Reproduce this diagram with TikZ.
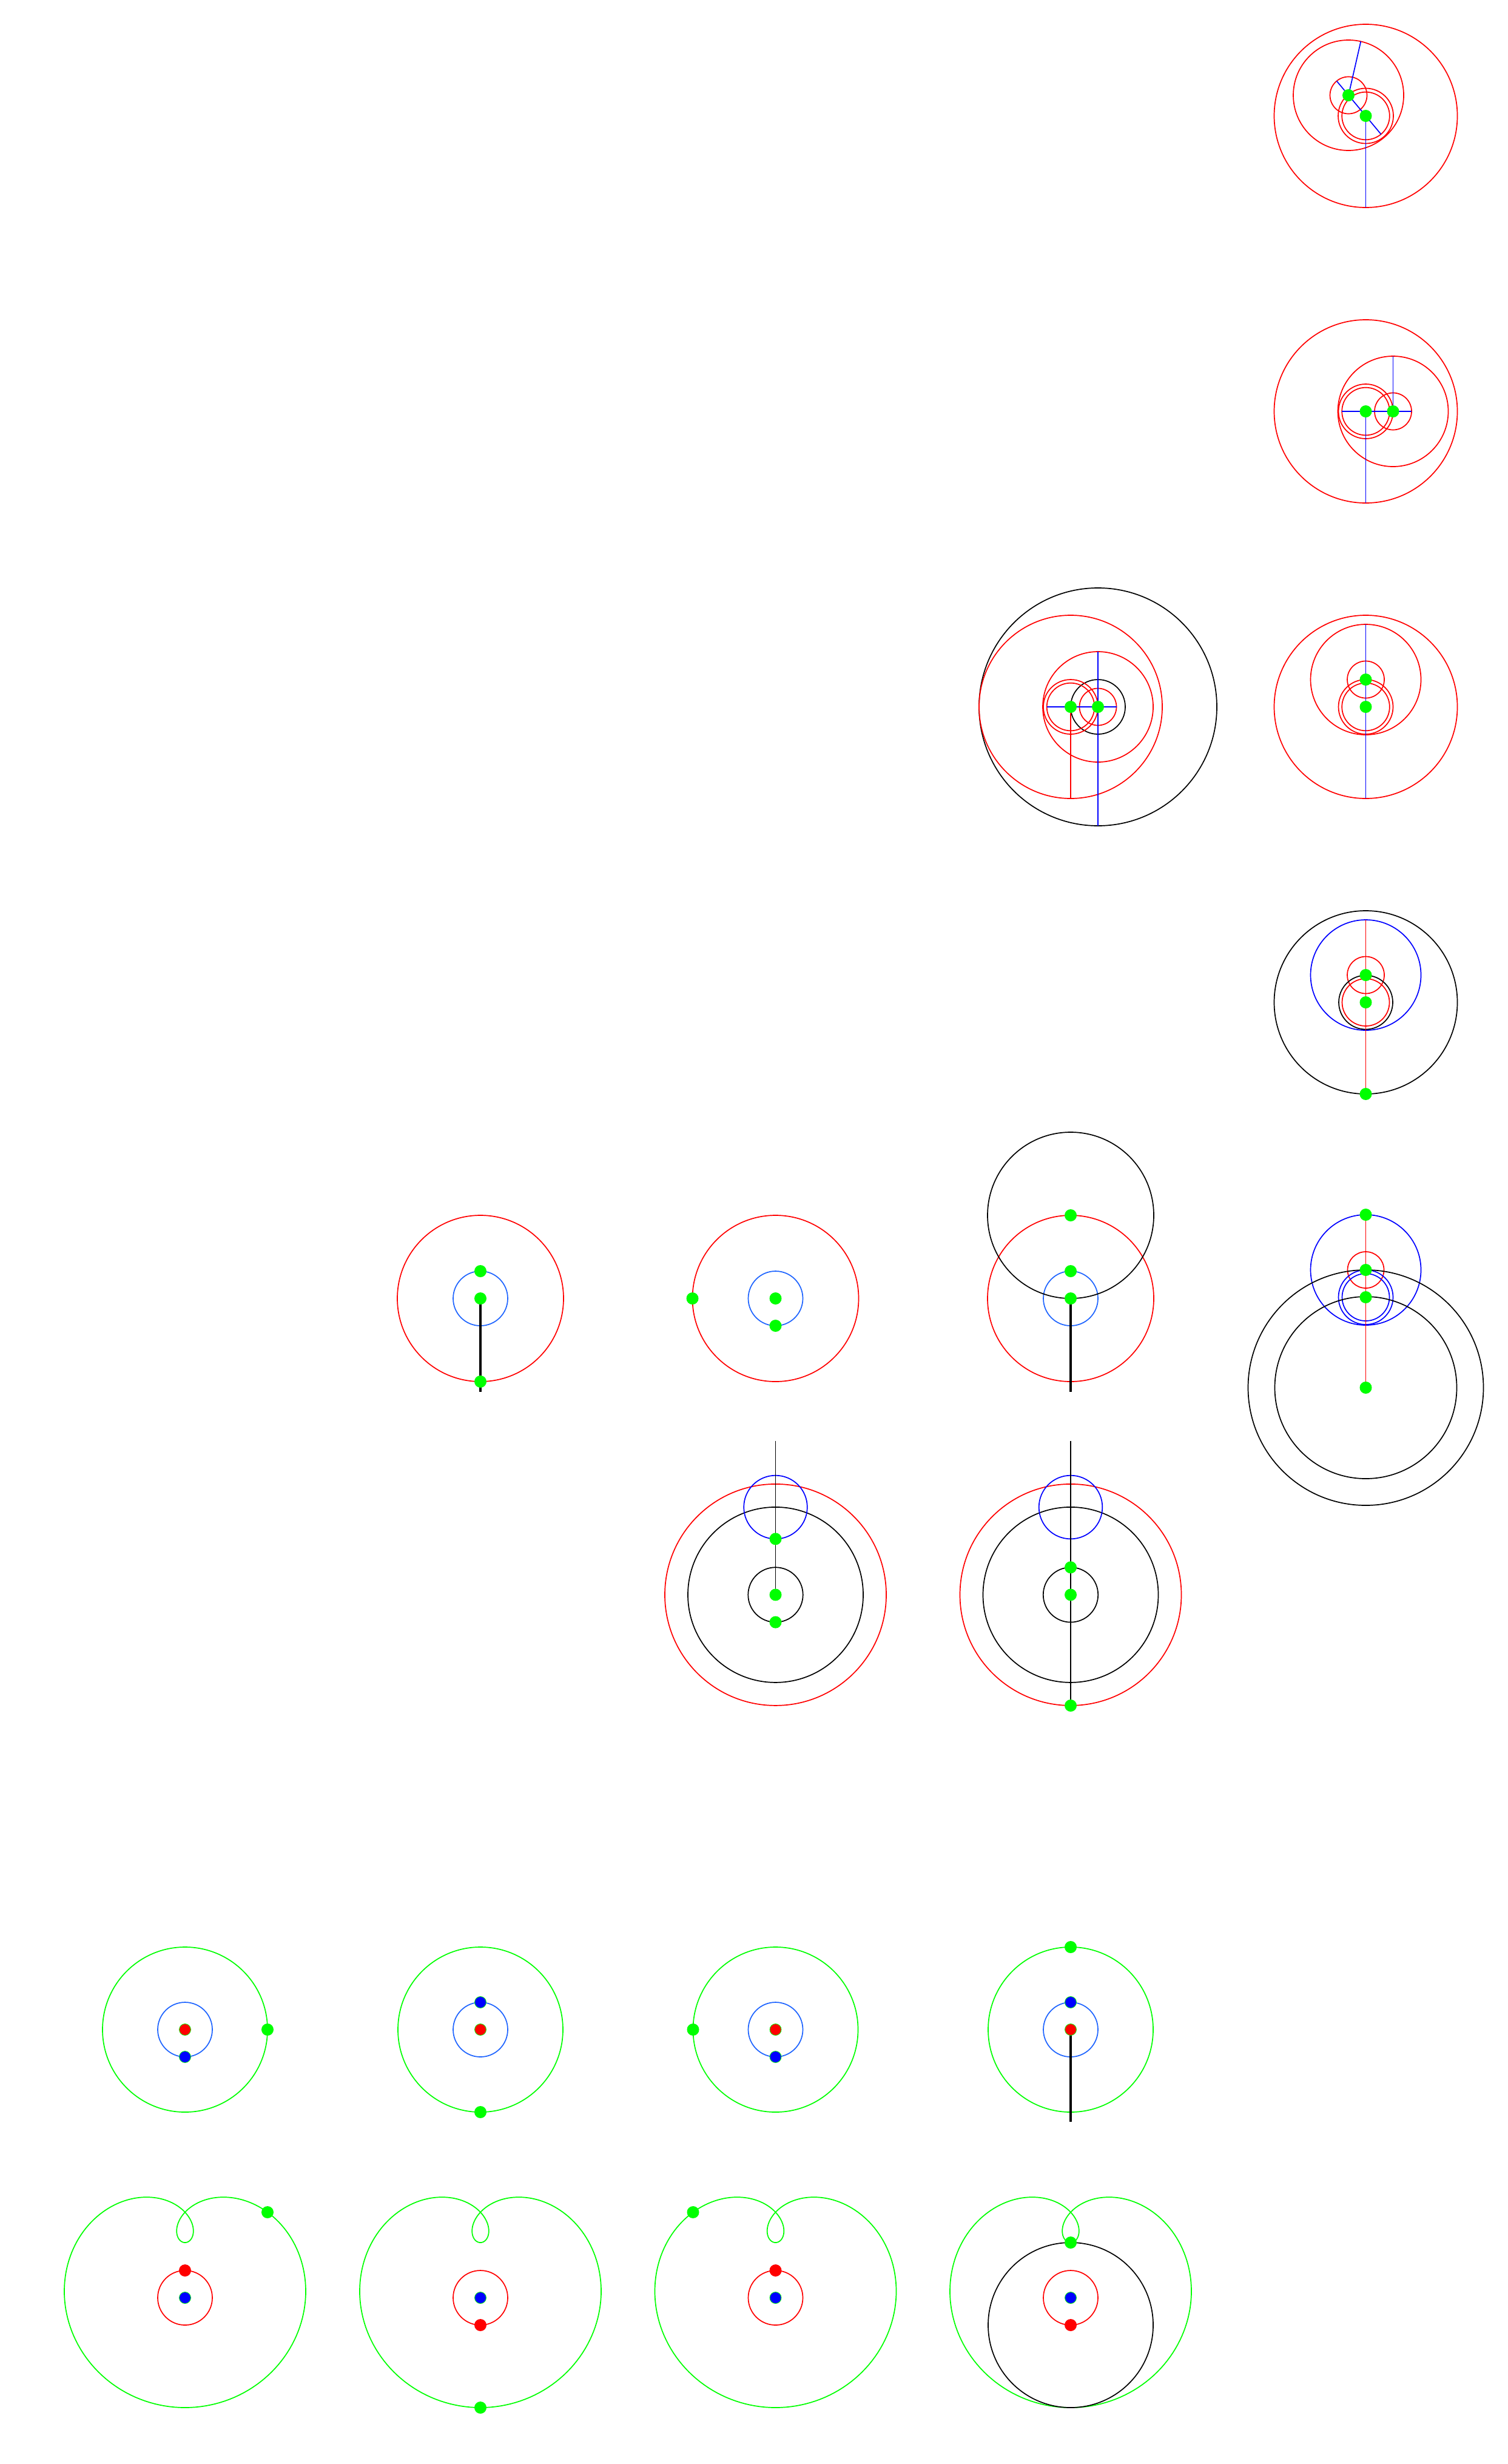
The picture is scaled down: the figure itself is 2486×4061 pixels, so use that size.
\documentclass[tikz,border=0pt]{standalone}
\definecolor{pg}{RGB}{0,255,0}
\definecolor{pr}{RGB}{255,0,0}
\definecolor{pb}{RGB}{0,0,255}
\definecolor{lb}{RGB}{30,100,255}
\begin{document}
\begin{tikzpicture}[x=1pt,y=-1pt,
  ln/.style={line width=1.7pt},
  rc/.style={ln,draw=pr}, bc/.style={ln,draw=pb}, kc/.style={ln,draw=black},
  gc/.style={ln,draw=pg}, lbc/.style={ln,draw=lb},
  tk/.style={line width=4.5pt,draw=black},
  dot/.style={circle,inner sep=0pt,minimum size=20pt},
  gdot/.style={dot,fill=pg},
  rdot/.style={dot,fill=pr},
  rdoto/.style={dot,fill=pr,draw=pg,line width=0.8pt,minimum size=19pt},
  bdoto/.style={dot,fill=pb,draw=pg,line width=0.8pt,minimum size=19pt}]
\path[fill=white] (0,0) rectangle (2486,4061);
% ---------- Panel A ----------
\coordinate (aO) at (2251.5,191);
\coordinate (aM) at (2223,157);
\coordinate (aB) at (2251.5,342);
\coordinate (aP) at (2203.5,133.5);
\coordinate (aQ) at (2276.7,221.3);
\coordinate (aT) at (2243.3,68.3);
\draw[rc] (aO) circle[radius=151pt];
\draw[rc] (aM) circle[radius=91pt];
\draw[rc] (aM) circle[radius=30.5pt];
\draw[rc] (aO) circle[radius=45.5pt];
\draw[rc] (aO) circle[radius=39.3pt];
\draw[bc] (aO) -- (aB);
\draw[bc] (aP) -- (aQ);
\draw[bc] (aM) -- (aT);
\node[gdot] (aMd) at (aM) {};
\node[gdot] (aOd) at (aO) {};
% ---------- Panel B ----------
\coordinate (bO) at (2251.5,678);
\coordinate (bM) at (2296.5,678);
\coordinate (bB) at (2251.5,829);
\coordinate (bP) at (2212.2,678);
\coordinate (bQ) at (2327,678);
\coordinate (bT) at (2296.5,587);
\draw[rc] (bO) circle[radius=151pt];
\draw[rc] (bM) circle[radius=91pt];
\draw[rc] (bM) circle[radius=30.5pt];
\draw[rc] (bO) circle[radius=45pt];
\draw[rc] (bO) circle[radius=39.3pt];
\draw[bc] (bO) -- (bB);
\draw[bc] (bP) -- (bQ);
\draw[bc] (bM) -- (bT);
\node[gdot] (bMd) at (bM) {};
\node[gdot] (bOd) at (bO) {};
% ---------- Panel C right ----------
\coordinate (cO) at (2251.5,1165);
\coordinate (cM) at (2251.5,1120);
\coordinate (cT) at (2251.5,1029);
\coordinate (cB) at (2251.5,1316);
\draw[rc] (cO) circle[radius=151pt];
\draw[rc] (cM) circle[radius=91pt];
\draw[rc] (cM) circle[radius=30.5pt];
\draw[rc] (cO) circle[radius=45pt];
\draw[rc] (cO) circle[radius=39.3pt];
\draw[bc] (cT) -- (cB);
\node[gdot] (cMd) at (cM) {};
\node[gdot] (cOd) at (cO) {};
% ---------- Panel C left ----------
\coordinate (dO) at (1765,1165);
\coordinate (dM) at (1810,1165);
\coordinate (dP) at (1725.7,1165);
\coordinate (dQ) at (1840.5,1165);
\coordinate (dT) at (1810,1074);
\coordinate (dB) at (1810,1361);
\coordinate (dR) at (1765,1316);
\draw[kc] (dM) circle[radius=196pt];
\draw[rc] (dO) circle[radius=151pt];
\draw[rc] (dM) circle[radius=91pt];
\draw[rc] (dM) circle[radius=30.5pt];
\draw[kc] (dM) circle[radius=45pt];
\draw[rc] (dO) circle[radius=45pt];
\draw[rc] (dO) circle[radius=39.3pt];
\draw[rc] (dO) -- (dR);
\draw[bc] (dT) -- (dB);
\draw[bc] (dP) -- (dQ);
\node[gdot] (dOd) at (dO) {};
\node[gdot] (dMd) at (dM) {};
% ---------- Panel D ----------
\coordinate (eO) at (2251.5,1652);
\coordinate (eM) at (2251.5,1607);
\coordinate (eT) at (2251.5,1516);
\coordinate (eB) at (2251.5,1803);
\draw[kc] (eO) circle[radius=151pt];
\draw[bc] (eM) circle[radius=91pt];
\draw[rc] (eM) circle[radius=30.5pt];
\draw[kc] (eO) circle[radius=44.5pt];
\draw[rc] (eO) circle[radius=39pt];
\draw[rc] (eT) -- (eB);
\node[gdot] (eMd) at (eM) {};
\node[gdot] (eOd) at (eO) {};
\node[gdot] (eBd) at (eB) {};
% ---------- Panel E ----------
\coordinate (fT) at (2251.5,2002);
\coordinate (fM) at (2251.5,2093);
\coordinate (fQ) at (2251.5,2138);
\coordinate (fS) at (2251.5,2287);
\draw[bc] (fM) circle[radius=91pt];
\draw[rc] (fM) circle[radius=30pt];
\draw[bc] (fQ) circle[radius=45pt];
\draw[bc] (fQ) circle[radius=39pt];
\draw[kc] (fS) circle[radius=194pt];
\draw[kc] (fS) circle[radius=150pt];
\draw[rc] (fT) -- (fS);
\node[gdot] (fTd) at (fT) {};
\node[gdot] (fMd) at (fM) {};
\node[gdot] (fQd) at (fQ) {};
\node[gdot] (fSd) at (fS) {};
% ---------- Row F ----------
\coordinate (g1O) at (792,2140);
\coordinate (g1B) at (792,2294);
\draw[rc] (g1O) circle[radius=137pt];
\draw[lbc] (g1O) circle[radius=45pt];
\draw[tk] (g1O) -- (g1B);
\node[gdot] (g1a) at (792,2095) {};
\node[gdot] (g1b) at (g1O) {};
\node[gdot] (g1c) at (792,2277) {};
\coordinate (g2O) at (1278.5,2140);
\draw[rc] (g2O) circle[radius=137pt];
\draw[lbc] (g2O) circle[radius=45pt];
\node[gdot] (g2a) at (g2O) {};
\node[gdot] (g2b) at (1141.5,2140) {};
\node[gdot] (g2c) at (1278.5,2185) {};
\coordinate (g3O) at (1765,2140);
\coordinate (g3T) at (1765,2003);
\coordinate (g3B) at (1765,2294);
\draw[rc] (g3O) circle[radius=137pt];
\draw[lbc] (g3O) circle[radius=45pt];
\draw[kc] (g3T) circle[radius=137pt];
\draw[tk] (g3O) -- (g3B);
\node[gdot] (g3a) at (g3T) {};
\node[gdot] (g3b) at (1765,2095) {};
\node[gdot] (g3c) at (g3O) {};
% ---------- Row G ----------
\coordinate (h1O) at (1278.5,2628.4);
\coordinate (h1U) at (1278.5,2484);
\coordinate (h1T) at (1278.5,2374.7);
\draw[rc] (h1O) circle[radius=182.5pt];
\draw[kc] (h1O) circle[radius=144.5pt];
\draw[kc] (h1O) circle[radius=45.2pt];
\draw[bc] (h1U) circle[radius=52.3pt];
\draw[kc] (h1T) -- (h1O);
\node[gdot] (h1a) at (1278.5,2536.3) {};
\node[gdot] (h1b) at (h1O) {};
\node[gdot] (h1c) at (1278.5,2673.6) {};
\coordinate (h2O) at (1765,2628.4);
\coordinate (h2U) at (1765,2484);
\coordinate (h2T) at (1765,2374.7);
\coordinate (h2B) at (1765,2811);
\draw[rc] (h2O) circle[radius=182.5pt];
\draw[kc] (h2O) circle[radius=144.5pt];
\draw[kc] (h2O) circle[radius=45.2pt];
\draw[bc] (h2U) circle[radius=52.3pt];
\draw[kc] (h2T) -- (h2B);
\node[gdot] (h2a) at (1765,2583.2) {};
\node[gdot] (h2b) at (h2O) {};
\node[gdot] (h2c) at (h2B) {};
% ---------- Row H ----------
\coordinate (i1O) at (305,3345);
\draw[gc] (i1O) circle[radius=136pt];
\draw[lbc] (i1O) circle[radius=45pt];
\node[rdoto] (i1r) at (i1O) {};
\node[bdoto] (i1b) at (305,3390) {};
\node[gdot] (i1g) at (441,3345) {};
\coordinate (i2O) at (792,3345);
\draw[gc] (i2O) circle[radius=136pt];
\draw[lbc] (i2O) circle[radius=45pt];
\node[rdoto] (i2r) at (i2O) {};
\node[bdoto] (i2b) at (792,3300) {};
\node[gdot] (i2g) at (792,3481) {};
\coordinate (i3O) at (1278.5,3345);
\draw[gc] (i3O) circle[radius=136pt];
\draw[lbc] (i3O) circle[radius=45pt];
\node[rdoto] (i3r) at (i3O) {};
\node[bdoto] (i3b) at (1278.5,3390) {};
\node[gdot] (i3g) at (1142.5,3345) {};
\coordinate (i4O) at (1765,3345);
\coordinate (i4B) at (1765,3497);
\draw[gc] (i4O) circle[radius=136pt];
\draw[lbc] (i4O) circle[radius=45pt];
\draw[tk] (i4O) -- (i4B);
\node[rdoto] (i4r) at (i4O) {};
\node[bdoto] (i4b) at (1765,3300) {};
\node[gdot] (i4g) at (1765,3209) {};
% ---------- Row I ----------
\coordinate (j1O) at (305,3787);
\draw[gc] plot[domain=0:360,samples=241,variable=\t] ({305+136*sin(\t)+93*sin(2*\t)},{3739+136*cos(\t)+93*cos(2*\t)});
\draw[rc] (j1O) circle[radius=45pt];
\node[bdoto] (j1b) at (j1O) {};
\node[rdot] (j1r) at (305,3742) {};
\node[gdot] (j1g) at (441,3646) {};
\coordinate (j2O) at (792,3787);
\draw[gc] plot[domain=0:360,samples=241,variable=\t] ({792+136*sin(\t)+93*sin(2*\t)},{3739+136*cos(\t)+93*cos(2*\t)});
\draw[rc] (j2O) circle[radius=45pt];
\node[bdoto] (j2b) at (j2O) {};
\node[rdot] (j2r) at (792,3832) {};
\node[gdot] (j2g) at (792,3968) {};
\coordinate (j3O) at (1278.5,3787);
\draw[gc] plot[domain=0:360,samples=241,variable=\t] ({1278.5+136*sin(\t)+93*sin(2*\t)},{3739+136*cos(\t)+93*cos(2*\t)});
\draw[rc] (j3O) circle[radius=45pt];
\node[bdoto] (j3b) at (j3O) {};
\node[rdot] (j3r) at (1278.5,3742) {};
\node[gdot] (j3g) at (1142.5,3646) {};
\coordinate (j4O) at (1765,3787);
\coordinate (j4S) at (1765,3832);
\draw[gc] plot[domain=0:360,samples=241,variable=\t] ({1765+136*sin(\t)+93*sin(2*\t)},{3739+136*cos(\t)+93*cos(2*\t)});
\draw[rc] (j4O) circle[radius=45pt];
\draw[kc] (j4S) circle[radius=136pt];
\node[bdoto] (j4b) at (j4O) {};
\node[rdot] (j4r) at (j4S) {};
\node[gdot] (j4g) at (1765,3696) {};
\end{tikzpicture}
\end{document}
